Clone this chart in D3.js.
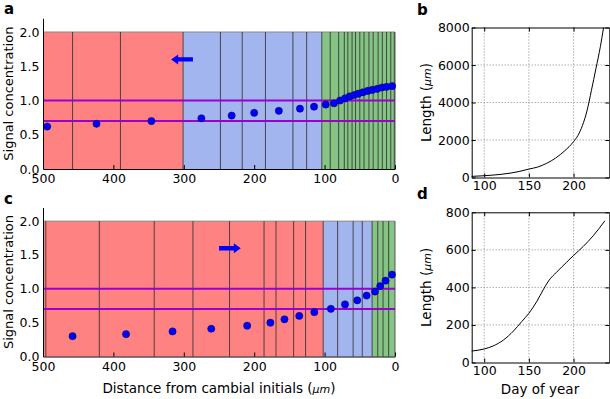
<!DOCTYPE html>
<html>
<head>
<meta charset="utf-8">
<script src="https://cdn.jsdelivr.net/npm/d3@7"></script>
<style>
  body { margin: 0; background: #fff; }
  svg { display: block; font-family: "DejaVu Sans", sans-serif; }
  .axis text { font-size: 12.5px; fill: #000; font-family: "DejaVu Sans", sans-serif; }
  .axis path, .axis line { stroke: #000; }
</style>
</head>
<body>
<svg id="chart" width="610" height="399"></svg>
<script>
// ---- data ----
let distTicks = [500, 400, 300, 200, 100, 0]
let signalTicks = [0, 0.5, 1.0, 1.5, 2.0]
let thresholds = [0.7, 1.0]

// panel a: zone edges (red | blue | green), cell walls, cell centres and signal
let zoneEdgesA = [500, 301, 104, 0]
let wallsA = [458, 390, 301, 248, 217, 184, 145, 125.5, 104, 92, 80, 72, 67, 61, 56, 50, 44, 37, 31, 24, 18, 12, 6, 1]
let cellDistA = [494, 424, 346, 275, 232, 200, 165, 135, 115, 98.4, 86.6, 78, 71, 64.3, 57.8, 52.1, 45.5, 38.8, 32.3, 25.2, 18.5, 11.9, 4]
let signalA = [0.62, 0.66, 0.70, 0.74, 0.78, 0.82, 0.85, 0.88, 0.91, 0.94, 0.96, 1.0, 1.03, 1.06, 1.08, 1.10, 1.12, 1.14, 1.155, 1.17, 1.19, 1.20, 1.21]

// panel c
let zoneEdgesC = [500, 102, 32.5, 0]
let wallsC = [496, 420, 342, 287, 235, 186, 169, 144, 127, 102, 81.5, 59.5, 46.5, 32.5, 24.5, 17, 9]
let cellDistC = [458, 382, 316, 261, 210, 177, 157, 136, 114.6, 91.1, 71, 53.6, 40.3, 28.4, 21, 13.4, 4.3]
let signalC = [0.30, 0.33, 0.37, 0.41, 0.455, 0.50, 0.55, 0.60, 0.655, 0.705, 0.77, 0.83, 0.90, 0.96, 1.04, 1.12, 1.21]

// panel b / d: length vs day of year
let dayTicks = [100, 150, 200]
let lengthTicksB = [0, 2000, 4000, 6000, 8000]
let lengthTicksD = [0, 200, 400, 600, 800]
let dayB = [86, 100, 110, 120, 130, 140, 150, 160, 170, 180, 190, 200, 205, 210, 215, 220, 225, 230, 233.6]
let lengthB = [60, 95, 130, 175, 240, 330, 450, 560, 760, 1040, 1420, 1910, 2250, 2780, 3550, 4650, 5800, 6980, 8000]
let dayD = [86, 100, 110, 121.6, 132.8, 142, 150, 158.7, 166, 172.1, 181, 192.2, 200, 210.8, 222, 235.1]
let lengthD = [61, 72, 88, 120, 168, 218, 262, 324, 387, 435, 481, 534, 570, 618, 675, 755]

let zoneColors = ['#ff8282', '#a2b5ee', '#85c485']

let svg = d3.select('#chart')

function signalPanel(box, zoneEdges, walls, dist, signal, arrow, letter) {
  let g = svg.append('g')
  let x = d3.scaleLinear().domain([500, 0]).range([box.left, box.right])
  let y = d3.scaleLinear().domain([0, 2.2]).range([box.bottom, box.top])

  // coloured zones
  g.selectAll('.zone')
    .data(d3.range(zoneEdges.length - 1))
    .enter().append('rect')
    .attr('x', i => x(zoneEdges[i]))
    .attr('y', y(2))
    .attr('width', i => x(zoneEdges[i + 1]) - x(zoneEdges[i]))
    .attr('height', y(0) - y(2))
    .attr('fill', i => zoneColors[i])
  g.append('line')
    .attr('x1', x(500)).attr('x2', x(0))
    .attr('y1', y(2)).attr('y2', y(2))
    .attr('stroke', '#888')

  // cell walls
  g.selectAll('.wall')
    .data(walls)
    .enter().append('line')
    .attr('x1', d => x(d)).attr('x2', d => x(d))
    .attr('y1', y(0)).attr('y2', y(2))
    .attr('stroke', '#2b2b2b').attr('stroke-opacity', 0.8)
  g.append('line')
    .attr('x1', x(0)).attr('x2', x(0))
    .attr('y1', y(0)).attr('y2', y(2))
    .attr('stroke', '#555')

  // threshold lines
  g.selectAll('.thr')
    .data(thresholds)
    .enter().append('line')
    .attr('x1', x(500)).attr('x2', x(0))
    .attr('y1', d => y(d)).attr('y2', d => y(d))
    .attr('stroke', '#9b00d3').attr('stroke-width', 2)

  // cells
  g.selectAll('.dot')
    .data(dist)
    .enter().append('circle')
    .attr('cx', d => x(d))
    .attr('cy', (d, i) => y(signal[i]))
    .attr('r', 3.6)
    .attr('fill', '#0000ff')
    .attr('stroke', '#000044').attr('stroke-width', 0.5)

  // arrow showing direction of movement
  let ay = y(arrow.y), tail = x(arrow.from), tip = x(arrow.to)
  let dir = tip > tail ? 1 : -1
  let neck = tip - dir * 7
  g.append('path')
    .attr('d', `M${tail},${ay - 2.2}L${neck},${ay - 2.2}L${neck},${ay - 5}L${tip},${ay}L${neck},${ay + 5}L${neck},${ay + 2.2}L${tail},${ay + 2.2}Z`)
    .attr('fill', '#0000ff')

  // axes
  g.append('g').attr('class', 'axis')
    .attr('transform', 'translate(0,' + box.bottom + ')')
    .call(d3.axisBottom(x).tickValues(distTicks).tickSizeInner(-4).tickSizeOuter(0).tickPadding(5.5))
  g.append('g').attr('class', 'axis')
    .attr('transform', 'translate(' + box.left + ',0)')
    .call(d3.axisLeft(y).tickValues(signalTicks).tickFormat(d3.format('.1f')).tickSizeInner(0).tickSizeOuter(0).tickPadding(3.5))

  g.append('text')
    .attr('transform', 'translate(12.5,' + (box.top + box.bottom) / 2 + ') rotate(-90)')
    .attr('text-anchor', 'middle')
    .attr('font-size', 13)
    .text('Signal concentration')

  g.append('text')
    .attr('x', 4).attr('y', box.top - 4)
    .attr('font-size', 15).attr('font-weight', 'bold')
    .text(letter)
}

function lengthPanel(box, day, length, yTicks, yMax, letter) {
  let g = svg.append('g')
  let x = d3.scaleLinear().domain([86, 240]).range([box.left, box.right])
  let y = d3.scaleLinear().domain([0, yMax]).range([box.bottom, box.top])

  // dotted grid
  g.selectAll('.gx')
    .data(dayTicks)
    .enter().append('line')
    .attr('x1', d => x(d)).attr('x2', d => x(d))
    .attr('y1', box.top).attr('y2', box.bottom)
    .attr('stroke', '#888').attr('stroke-dasharray', '1,2')
  g.selectAll('.gy')
    .data(yTicks.slice(1, -1))
    .enter().append('line')
    .attr('x1', box.left).attr('x2', box.right)
    .attr('y1', d => y(d)).attr('y2', d => y(d))
    .attr('stroke', '#888').attr('stroke-dasharray', '1,2')

  let line = d3.line()
    .x((d, i) => x(day[i]))
    .y(d => y(d))
    .curve(d3.curveMonotoneX)
  g.append('path')
    .datum(length)
    .attr('d', line)
    .attr('fill', 'none')
    .attr('stroke', '#000').attr('stroke-width', 1)

  g.append('g').attr('class', 'axis')
    .attr('transform', 'translate(0,' + box.bottom + ')')
    .call(d3.axisBottom(x).tickValues(dayTicks).tickSizeInner(-4).tickSizeOuter(0).tickPadding(4))
  g.append('g').attr('class', 'axis')
    .attr('transform', 'translate(' + box.left + ',0)')
    .call(d3.axisLeft(y).tickValues(yTicks).tickFormat(d3.format('d')).tickSizeInner(-4).tickSizeOuter(0).tickPadding(2))
  // top and right ticks
  g.append('g').attr('class', 'axis')
    .attr('transform', 'translate(0,' + box.top + ')')
    .call(d3.axisTop(x).tickValues(dayTicks).tickSizeInner(-4).tickSizeOuter(0).tickFormat(''))
  g.append('g').attr('class', 'axis')
    .attr('transform', 'translate(' + box.right + ',0)')
    .call(d3.axisRight(y).tickValues(yTicks).tickSizeInner(-4).tickSizeOuter(0).tickFormat(''))

  let lab = g.append('text')
    .attr('transform', 'translate(431,' + (box.top + box.bottom) / 2 + ') rotate(-90)')
    .attr('text-anchor', 'middle')
    .attr('font-size', 13.5)
  lab.append('tspan').text('Length (')
  lab.append('tspan').attr('font-style', 'italic').attr('font-size', 11).text('μm')
  lab.append('tspan').text(')')

  g.append('text')
    .attr('x', 417).attr('y', box.top - 13)
    .attr('font-size', 15).attr('font-weight', 'bold')
    .text(letter)
}

signalPanel({ left: 43, right: 395, top: 18.3, bottom: 169 }, zoneEdgesA, wallsA, cellDistA, signalA,
  { from: 287, to: 318, y: 1.6 }, 'a')
signalPanel({ left: 43, right: 395, top: 207.6, bottom: 356.5 }, zoneEdgesC, wallsC, cellDistC, signalC,
  { from: 250, to: 219, y: 1.6 }, 'c')
lengthPanel({ left: 471.7, right: 609.3, top: 27.5, bottom: 177.5 }, dayB, lengthB, lengthTicksB, 8000, 'b')
lengthPanel({ left: 471.7, right: 609.3, top: 212.3, bottom: 362.5 }, dayD, lengthD, lengthTicksD, 800, 'd')

let xl = svg.append('text')
  .attr('x', 219).attr('y', 393)
  .attr('text-anchor', 'middle').attr('font-size', 13.5)
xl.append('tspan').text('Distance from cambial initials (')
xl.append('tspan').attr('font-style', 'italic').attr('font-size', 11).text('μm')
xl.append('tspan').text(')')

svg.append('text')
  .attr('x', 540).attr('y', 394)
  .attr('text-anchor', 'middle').attr('font-size', 13.5)
  .text('Day of year')
</script>
</body>
</html>
